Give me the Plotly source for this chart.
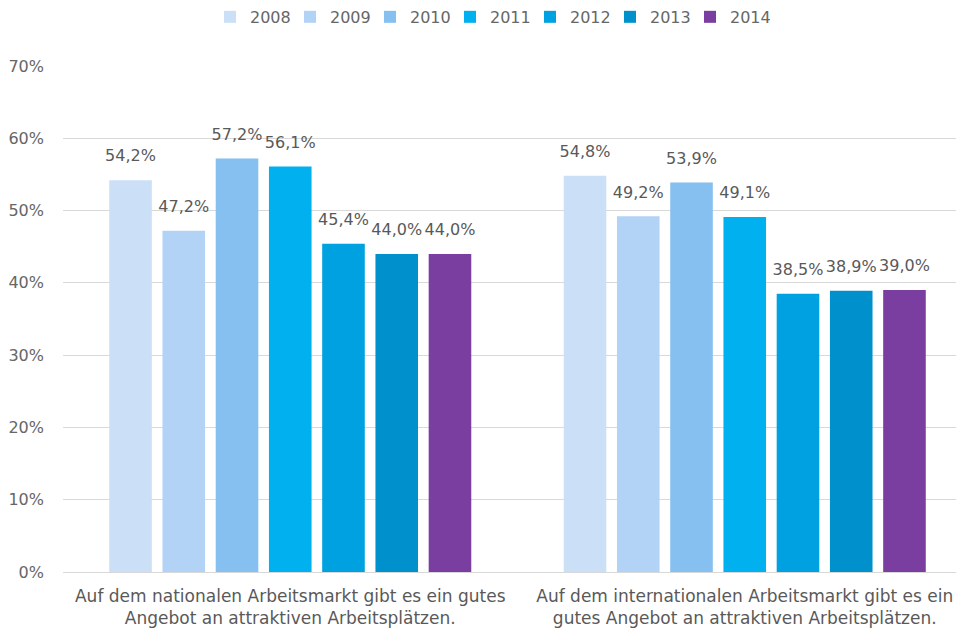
import plotly.graph_objects as go

categories = [
    "Auf dem nationalen Arbeitsmarkt gibt es ein gutes<br>Angebot an attraktiven Arbeitsplätzen.",
    "Auf dem internationalen Arbeitsmarkt gibt es ein<br>gutes Angebot an attraktiven Arbeitsplätzen.",
]
years = ["2008", "2009", "2010", "2011", "2012", "2013", "2014"]
values = {
    "2008": [54.2, 54.8],
    "2009": [47.2, 49.2],
    "2010": [57.2, 53.9],
    "2011": [56.1, 49.1],
    "2012": [45.4, 38.5],
    "2013": [44.0, 38.9],
    "2014": [44.0, 39.0],
}
colors = ["#cbe0f6", "#b2d3f5", "#86c0f1", "#00b0ef", "#00a1e1", "#0091cd", "#7a3da0"]

fig = go.Figure()
for year, color in zip(years, colors):
    fig.add_trace(go.Bar(
        x=categories,
        y=values[year],
        name=year,
        offsetgroup=year,
        marker=dict(color=color, line=dict(width=0)),
        hoverinfo="skip",
    ))
    # value labels a bit above each bar
    fig.add_trace(go.Scatter(
        x=categories,
        y=values[year],
        offsetgroup=year,
        mode="markers+text",
        marker=dict(size=22, opacity=0),
        texttemplate="%{y:.1f}%",
        textposition="top center",
        textfont=dict(color="#595959", size=16),
        showlegend=False,
        cliponaxis=False,
    ))

fig.update_layout(
    width=964, height=629,
    barmode="group",
    scattermode="group",
    bargap=0.18,
    scattergap=0.18,
    bargroupgap=0.2,
    separators=",.",
    plot_bgcolor="white",
    paper_bgcolor="white",
    font=dict(family="DejaVu Sans, sans-serif", color="#666666", size=16),
    margin=dict(l=55, r=0, t=58, b=65, autoexpand=False),
    legend=dict(orientation="h", x=0.5, xanchor="center", xref="container",
                y=1.097, yanchor="middle", yref="paper",
                font=dict(size=16, color="#666666"),
                itemwidth=30, entrywidth=35, entrywidthmode="pixels"),
    xaxis=dict(tickfont=dict(size=17, color="#595959"), showline=False, ticks="",
               automargin=False, ticklabelstandoff=12),
    yaxis=dict(range=[0, 70], dtick=10, ticksuffix="%", gridcolor="#d9d9d9",
               zeroline=True, zerolinecolor="#d9d9d9", zerolinewidth=1,
               tickfont=dict(size=16, color="#666666"), ticklabelstandoff=18,
               automargin=False),
    showlegend=True,
)

fig.write_html("out.html")
